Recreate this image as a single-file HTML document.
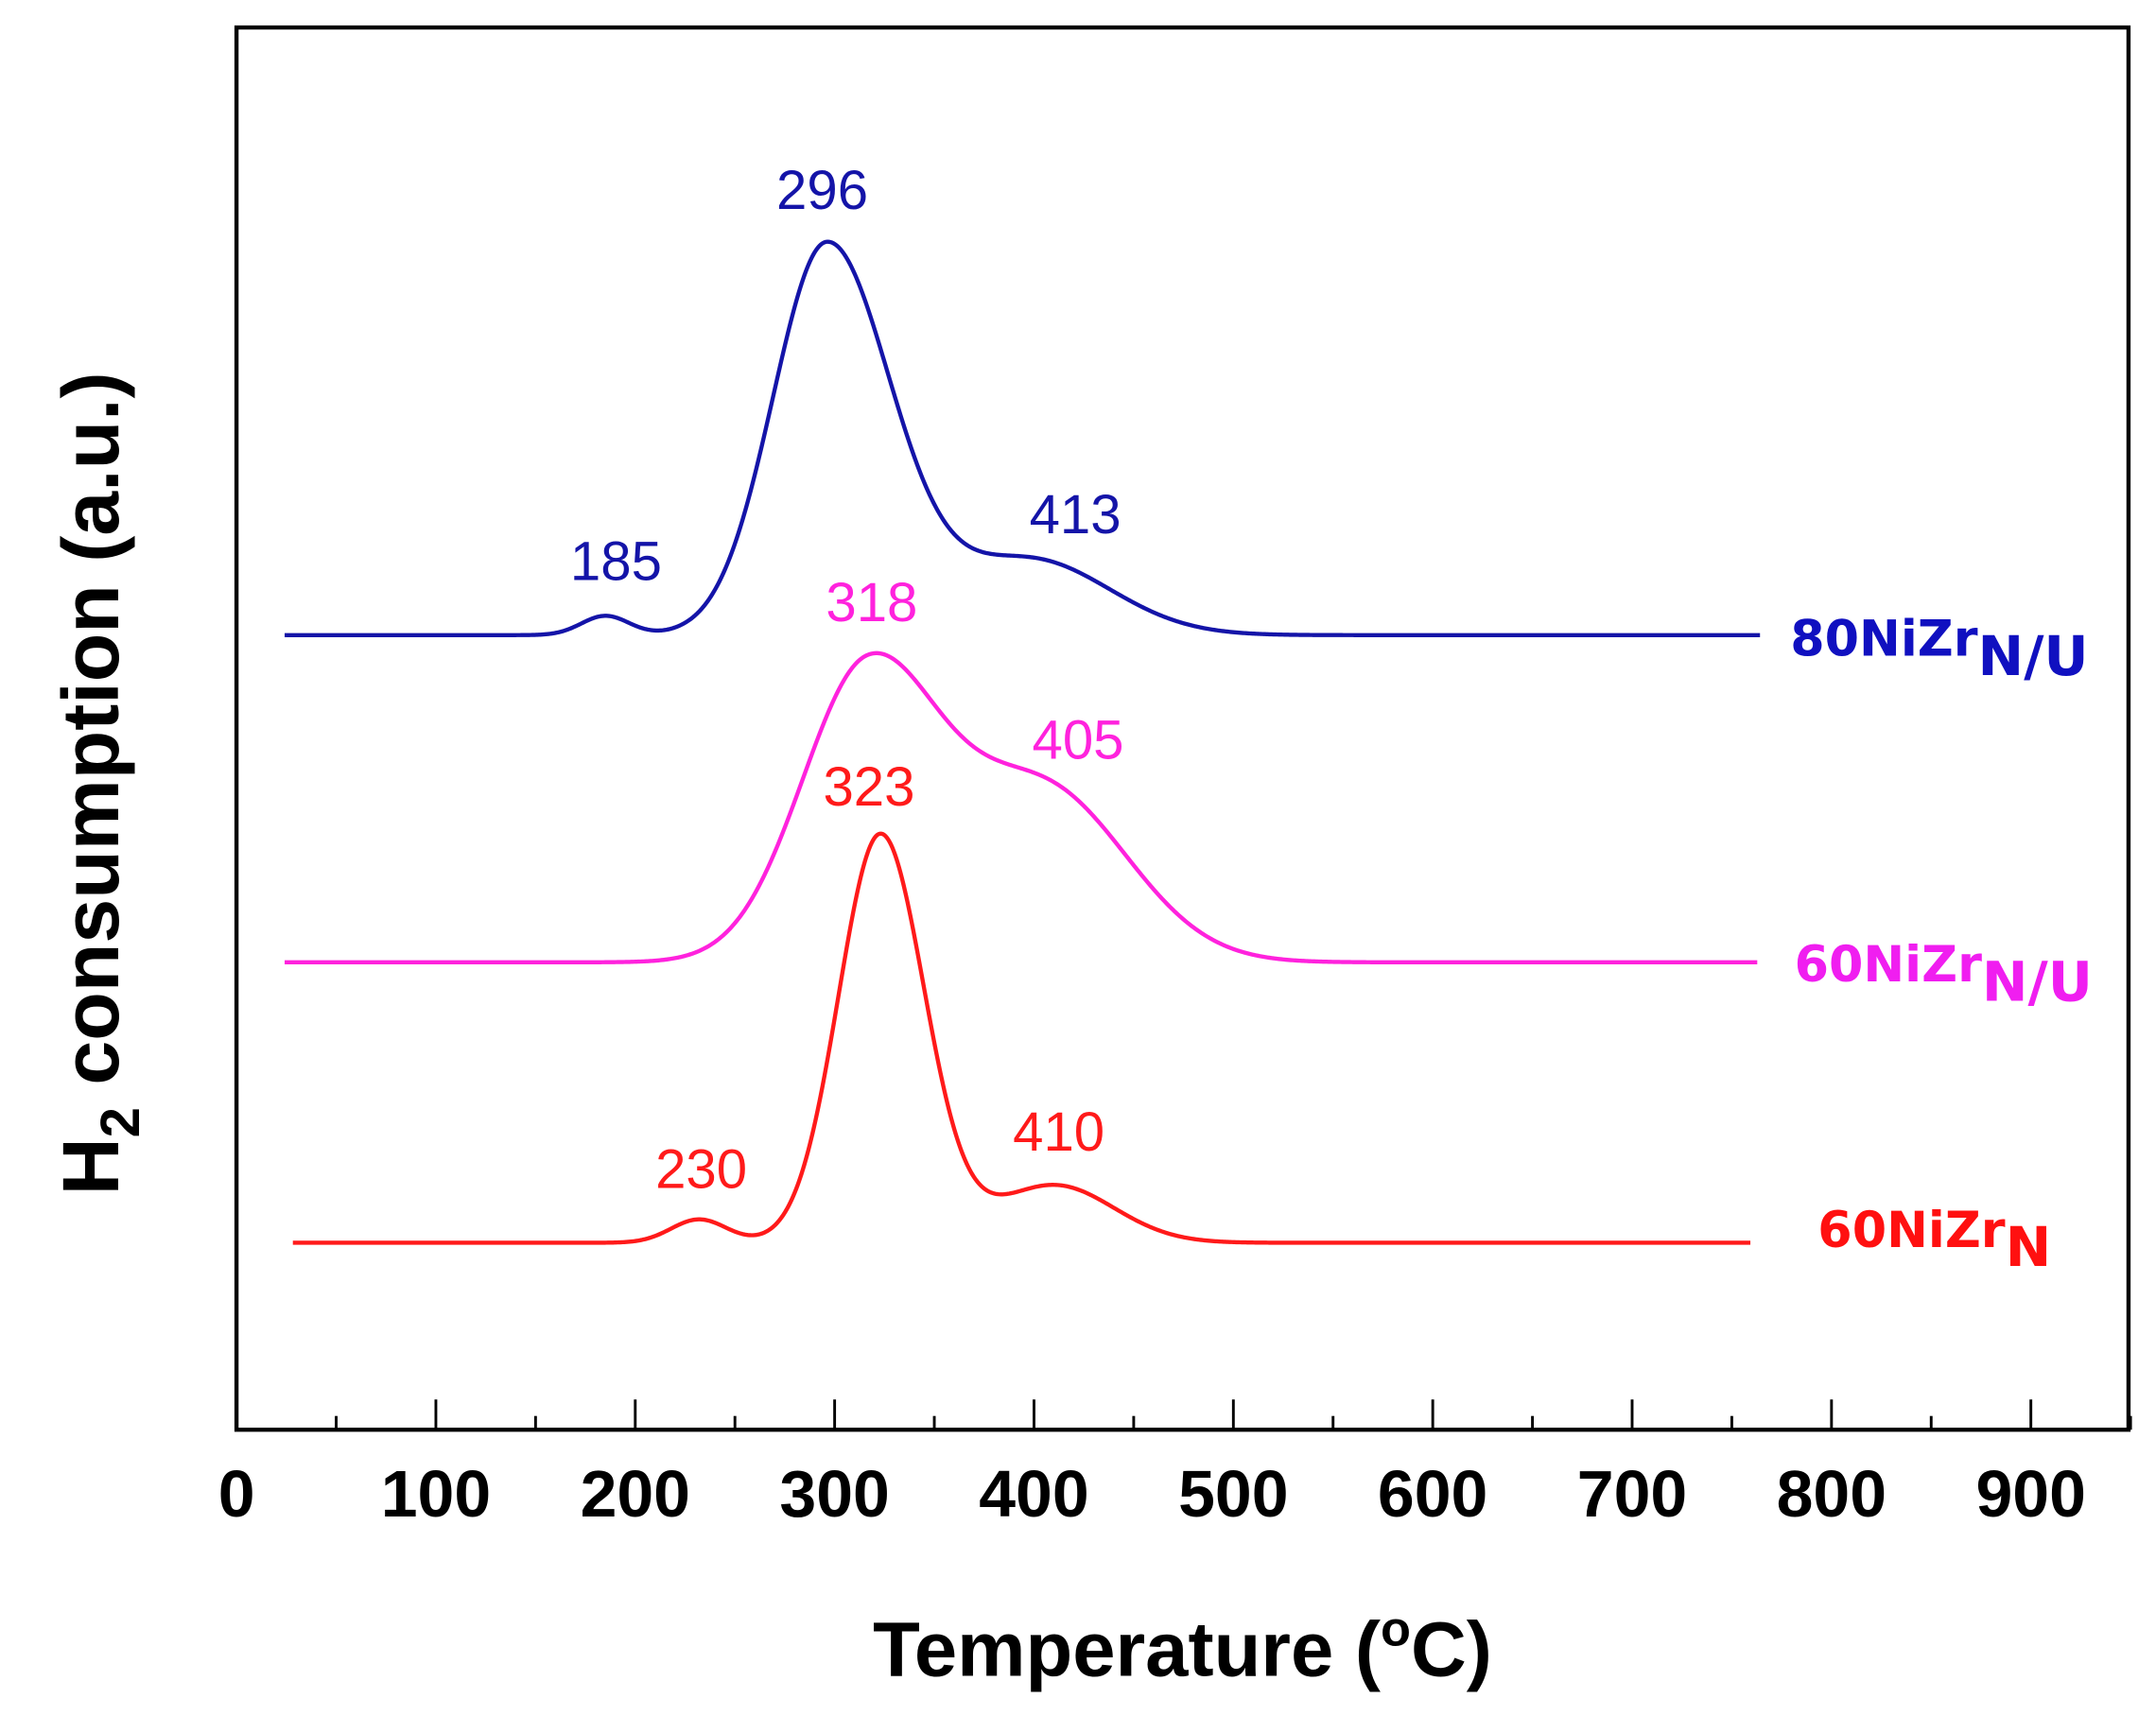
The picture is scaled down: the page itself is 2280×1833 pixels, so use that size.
<!DOCTYPE html>
<html><head><meta charset="utf-8"><style>
html,body{margin:0;padding:0;background:#fff;}
svg{display:block;}
text{font-family:"Liberation Sans",Arial,sans-serif;}
</style></head><body>
<svg id="s" width="2280" height="1833" viewBox="0 0 1568 1260.6" preserveAspectRatio="none" xmlns="http://www.w3.org/2000/svg">
<rect x="172" y="20" width="1376" height="1020" fill="none" stroke="#000" stroke-width="3"/>
<g id="ticks" stroke="#000" stroke-width="2"></g>
<g font-weight="bold" font-size="48" text-anchor="middle" fill="#000" id="tl"></g>
<text x="860" y="1219" font-size="56" font-weight="bold" text-anchor="middle">Temperature (<tspan font-size="36" dy="-22">o</tspan><tspan dy="22">C)</tspan></text>
<text transform="translate(86,570) rotate(-90)" font-size="58" font-weight="bold" text-anchor="middle">H<tspan font-size="40" dy="15">2</tspan><tspan dy="-15"> consumption (a.u.)</tspan></text>
<path id="pb" fill="none" stroke="#1414a8" stroke-width="3"/>
<path id="pp" fill="none" stroke="#ff22dd" stroke-width="3"/>
<path id="pr" fill="none" stroke="#ff1a1a" stroke-width="3"/>
<g font-size="40" text-anchor="middle">
<text x="598" y="152" fill="#1414a8">296</text>
<text x="448" y="422" fill="#1414a8">185</text>
<text x="782" y="388" fill="#1414a8">413</text>
<text x="634" y="452" fill="#ff22dd">318</text>
<text x="784" y="552" fill="#ff22dd">405</text>
<text x="632" y="586" fill="#ff1a1a">323</text>
<text x="510" y="864" fill="#ff1a1a">230</text>
<text x="770" y="837" fill="#ff1a1a">410</text>
</g>
<g font-weight="bold" font-size="36">
<text x="1302" y="477" fill="#1010c0" style="font-family:'DejaVu Sans',sans-serif">80NiZr<tspan dy="14" font-size="40">N/U</tspan></text>
<text x="1305" y="714" fill="#f01ef0" style="font-family:'DejaVu Sans',sans-serif">60NiZr<tspan dy="14" font-size="40">N/U</tspan></text>
<text x="1322" y="907" fill="#ff1010" style="font-family:'DejaVu Sans',sans-serif">60NiZr<tspan dy="14" font-size="40">N</tspan></text>
</g>
</svg>
<script>
var ns="http://www.w3.org/2000/svg";
function X(T){return 172+T*1.45;}
var tk=document.getElementById('ticks'),tl=document.getElementById('tl');
for(var t=0;t<=950;t+=50){var l=document.createElementNS(ns,'line');var x=X(t);l.setAttribute('x1',x);l.setAttribute('x2',x);l.setAttribute('y1',1040);l.setAttribute('y2',t%100==0?1018:1030);tk.appendChild(l);
if(t%100==0){var tx=document.createElementNS(ns,'text');tx.setAttribute('x',x);tx.setAttribute('y',1103);tx.textContent=t;tl.appendChild(tx);}}
function g(T,c,s){return Math.exp(-(T-c)*(T-c)/(2*s*s));}
function ga(T,c,sl,sr){var s=T<c?sl:sr;return g(T,c,s);}
function mk(id,base,x0,x1,f){var d='';for(var x=x0;x<=x1;x+=1){var T=(x-172)/1.45;d+=(x==x0?'M':'L')+x+' '+(base-f(T)).toFixed(2);}document.getElementById(id).setAttribute('d',d);}
mk('pb',462,207,1280,function(T){return 284*ga(T,296,27,32)+55*g(T,398,40)+14*g(T,185,12);});
mk('pp',700,207,1278,function(T){return 210*ga(T,316,33,36)+125*g(T,405,42);});
mk('pr',904,213,1273,function(T){return 297*ga(T,323,21,22)+42*g(T,410,30)+17*g(T,232,14);});
</script>
</body></html>
